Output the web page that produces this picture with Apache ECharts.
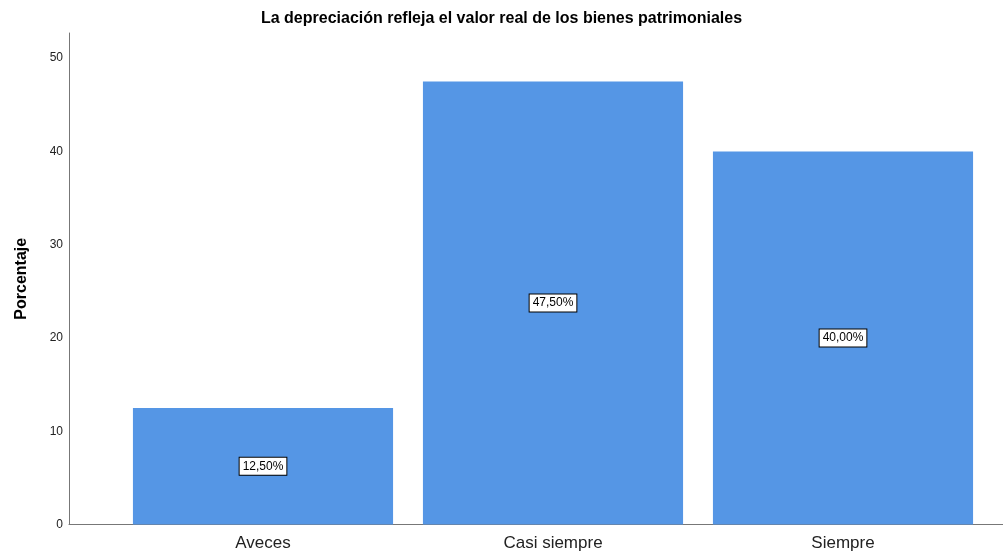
<!DOCTYPE html>
<html>
<head>
<meta charset="utf-8">
<script src="https://cdn.jsdelivr.net/npm/echarts@6/dist/echarts.min.js"></script>
<style>
  html, body { margin: 0; padding: 0; background: #fff; }
  #chart { width: 1003px; height: 558px; }
</style>
</head>
<body>
<div id="chart"></div>
<script>
const title = 'La depreciación refleja el valor real de los bienes patrimoniales'
const categories = ['Aveces', 'Casi siempre', 'Siempre']
const percents = [12.5, 47.5, 40.0]
const yMax = 52.7

const font = '"Liberation Sans", Arial, sans-serif'
const chart = echarts.init(document.getElementById('chart'))

// grid 0 holds the bars, grid 1 only draws the axis lines spanning the full frame
chart.setOption({
  backgroundColor: '#fff',
  animation: false,
  title: {
    text: title,
    left: 'center',
    top: 6,
    textStyle: { fontFamily: font, fontSize: 16, fontWeight: 'bold', color: '#000' }
  },
  grid: [
    { left: 118, right: 15, top: 33, bottom: 33.5 },
    { left: 69, right: 0, top: 33, bottom: 33.5 }
  ],
  xAxis: [
    {
      type: 'category',
      gridIndex: 0,
      data: categories,
      axisLine: { show: false },
      axisTick: { show: false },
      axisLabel: { fontFamily: font, fontSize: 17, color: '#222', margin: 10 }
    },
    {
      type: 'value',
      gridIndex: 1,
      min: 0,
      max: 1,
      axisLine: { show: true, lineStyle: { color: '#777', width: 1 } },
      axisTick: { show: false },
      axisLabel: { show: false },
      splitLine: { show: false }
    }
  ],
  yAxis: [
    {
      type: 'value',
      gridIndex: 0,
      min: 0,
      max: yMax,
      show: false,
      splitLine: { show: false }
    },
    {
      type: 'value',
      gridIndex: 1,
      min: 0,
      max: yMax,
      interval: 10,
      name: 'Porcentaje',
      nameLocation: 'middle',
      nameGap: 39,
      nameTextStyle: { fontFamily: font, fontSize: 16, fontWeight: 'bold', color: '#000' },
      axisLine: { show: true, lineStyle: { color: '#777', width: 1 } },
      axisTick: { show: false },
      splitLine: { show: false },
      axisLabel: {
        fontFamily: font,
        fontSize: 12,
        color: '#222',
        margin: 6,
        showMaxLabel: false,
        formatter: v => (v % 10 === 0 ? String(v) : '')
      }
    }
  ],
  series: [
    {
      type: 'bar',
      xAxisIndex: 0,
      yAxisIndex: 0,
      data: percents,
      barCategoryGap: '10.3%',
      itemStyle: { color: '#5596e5' },
      label: {
        show: true,
        position: 'inside',
        fontFamily: font,
        fontSize: 12,
        color: '#000',
        backgroundColor: '#fff',
        borderColor: '#000',
        borderWidth: 1,
        padding: [3, 3, 2, 3],
        formatter: p => p.value.toFixed(2).replace('.', ',') + '%'
      }
    }
  ]
})
</script>
</body>
</html>
